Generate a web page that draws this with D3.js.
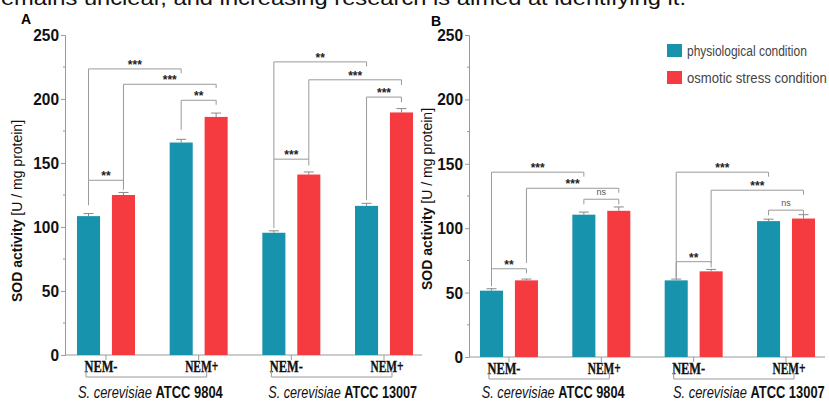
<!DOCTYPE html>
<html>
<head>
<meta charset="utf-8">
<script src="https://cdn.jsdelivr.net/npm/d3@7"></script>
<style>
    body { margin: 0; background: #fff; }
    svg { display: block; }
    .tick-lbl { font-family: "Liberation Sans", sans-serif; font-weight: bold; font-size: 17px; fill: #111; }
    .nem { font-family: "Liberation Serif", serif; font-weight: bold; font-size: 16px; fill: #111; stroke: #111; stroke-width: 0.35px; }
    .strain { font-family: "Liberation Sans", sans-serif; font-size: 17px; fill: #111; }
    .ytitle { font-family: "Liberation Sans", sans-serif; font-size: 14px; fill: #111; }
    .sig { font-family: "Liberation Sans", sans-serif; font-weight: bold; font-size: 12px; fill: #222; }
    .ns { font-family: "Liberation Sans", sans-serif; font-size: 9px; fill: #555; }
    .legend { font-family: "Liberation Sans", sans-serif; font-size: 15px; fill: #444; }
</style>
</head>
<body>
<svg id="chart" width="829" height="403"></svg>
<script>
// data
var strains = ["ATCC 9804", "ATCC 13007"];
var treatments = ["NEM-", "NEM+"];
var conditions = ["physiological condition", "osmotic stress condition"];
var yTicks = [0, 50, 100, 150, 200, 250];

// order: 9804 NEM-, 9804 NEM+, 13007 NEM-, 13007 NEM+
var physA = [108.5, 166, 95.5, 116.5];
var physErrA = [2, 2.5, 1.5, 2];
var osmA = [125, 186, 141, 189.5];
var osmErrA = [2, 3, 2, 3];

var physB = [51.5, 110.5, 59.5, 105.5];
var physErrB = [1.5, 2, 1, 1.5];
var osmB = [59.5, 113.5, 66.5, 107.5];
var osmErrB = [1, 3, 1.5, 3];

// significance brackets: [cluster, condition] -> [cluster, condition], level, leg ends, label
var bracketsA = [
    {a: [0, 0], b: [1, 0], y: 223.5, la: 136.5, lb: 220, t: "***"},
    {a: [0, 1], b: [1, 1], y: 211.5, la: 129, lb: 208.5, t: "***"},
    {a: [1, 0], b: [1, 1], y: 199, la: 176, lb: 195.5, t: "**"},
    {a: [0, 0], b: [0, 1], y: 136.5, la: 117, lb: 132.5, t: "**"},
    {a: [2, 0], b: [3, 0], y: 229, la: 153, lb: 225.5, t: "**"},
    {a: [2, 1], b: [3, 1], y: 215, la: 153, lb: 211, t: "***"},
    {a: [3, 0], b: [3, 1], y: 201.5, la: 121, lb: 197.5, t: "***"},
    {a: [2, 0], b: [2, 1], y: 153, la: 99, lb: 148, t: "***"}
];
var bracketsB = [
    {a: [0, 0], b: [1, 0], y: 143.5, la: 55, lb: 140, t: "***"},
    {a: [0, 1], b: [1, 1], y: 131, la: 73, lb: 127.5, t: "***"},
    {a: [1, 0], b: [1, 1], y: 122.5, la: 118.5, lb: 118.5, t: "ns"},
    {a: [0, 0], b: [0, 1], y: 68.5, la: 55, lb: 65, t: "**"},
    {a: [2, 0], b: [3, 0], y: 143.5, la: 61, lb: 140, t: "***"},
    {a: [2, 1], b: [3, 1], y: 129.5, la: 73, lb: 126, t: "***"},
    {a: [3, 0], b: [3, 1], y: 114, la: 110, lb: 110, t: "ns"},
    {a: [2, 0], b: [2, 1], y: 74, la: 61, lb: 69.5, t: "**"}
];

var colors = ["#1893ad", "#f63b40"];
var grey = "#9a9a9a";

var svg = d3.select("#chart");

// cut-off line of body text above the figure
svg.append("text")
    .attr("x", -7).attr("y", 5)
    .attr("textLength", 693).attr("lengthAdjust", "spacingAndGlyphs")
    .style("font-family", "Liberation Sans, sans-serif").style("font-size", "21px").style("fill", "#111")
    .text("remains unclear, and increasing research is aimed at identifying it.");

// squeeze a text horizontally to a given width (the original uses a narrow face)
function squeeze(sel, x0, y0, w, anchor) {
    var n = sel.node().getComputedTextLength();
    sel.attr("text-anchor", anchor || "middle")
        .attr("transform", "translate(" + x0 + "," + y0 + ") scale(" + (w / n) + ",1)");
}

function panel(opt) {
    var g = svg.append("g");
    var clusters = d3.range(4);

    var x = d3.scaleBand().domain(clusters).range(opt.xRange);
    var xs = d3.scaleBand().domain([0, 1])
        .range([x.bandwidth() / 2 - 29, x.bandwidth() / 2 + 29])
        .paddingInner(0.34);
    var y = d3.scaleLinear().domain([0, 250]).range(opt.yRange);

    function barX(c, s) { return x(c) + xs(s); }
    function barMid(c, s) { return x(c) + xs(s) + xs.bandwidth() / 2; }
    function mid(c) { return x(c) + x.bandwidth() / 2; }

    var rows = [];
    clusters.forEach(function (c) {
        rows.push({c: c, s: 0, v: opt.phys[c], e: opt.physErr[c]});
        rows.push({c: c, s: 1, v: opt.osm[c], e: opt.osmErr[c]});
    });

    // y axis
    var yAxis = d3.axisLeft(y).tickValues(yTicks).tickSize(4).tickPadding(2).tickFormat(d3.format("d"));
    var ay = g.append("g").attr("transform", "translate(" + opt.axisX + ",0)").call(yAxis);
    ay.attr("font-size", null).attr("font-family", null);
    ay.select(".domain").attr("stroke", grey);
    ay.selectAll(".tick line").attr("stroke", grey);
    ay.selectAll(".tick text").attr("class", "tick-lbl").attr("fill", null)
        .attr("textLength", function (d) { return String(d).length * 8.6; })
        .attr("lengthAdjust", "spacingAndGlyphs");
    // minor ticks
    g.selectAll(".minor").data(d3.range(25, 250, 50)).enter().append("line")
        .attr("x1", opt.axisX - 2).attr("x2", opt.axisX)
        .attr("y1", function (d) { return y(d); }).attr("y2", function (d) { return y(d); })
        .attr("stroke", grey);

    // x axis line and ticks
    g.append("line")
        .attr("x1", opt.axisX).attr("x2", opt.xEnd)
        .attr("y1", y(0)).attr("y2", y(0))
        .attr("stroke", grey);
    g.selectAll(".xtick").data(clusters).enter().append("line")
        .attr("x1", mid).attr("x2", mid)
        .attr("y1", y(0)).attr("y2", y(0) + 5)
        .attr("stroke", grey);

    // bars
    g.selectAll(".bar").data(rows).enter().append("rect")
        .attr("x", function (d) { return barX(d.c, d.s); })
        .attr("width", xs.bandwidth())
        .attr("y", function (d) { return y(d.v); })
        .attr("height", function (d) { return y(0) - y(d.v); })
        .attr("fill", function (d) { return colors[d.s]; });

    // error bars (upper half)
    var eb = g.selectAll(".err").data(rows).enter().append("g").attr("stroke", "#888").attr("stroke-width", 1);
    eb.append("line")
        .attr("x1", function (d) { return barMid(d.c, d.s); })
        .attr("x2", function (d) { return barMid(d.c, d.s); })
        .attr("y1", function (d) { return y(d.v); })
        .attr("y2", function (d) { return y(d.v + d.e); });
    eb.append("line")
        .attr("x1", function (d) { return barMid(d.c, d.s) - 5; })
        .attr("x2", function (d) { return barMid(d.c, d.s) + 5; })
        .attr("y1", function (d) { return y(d.v + d.e); })
        .attr("y2", function (d) { return y(d.v + d.e); });

    // significance brackets
    var br = g.selectAll(".br").data(opt.brackets).enter().append("g");
    br.append("path")
        .attr("fill", "none").attr("stroke", grey).attr("stroke-width", 1)
        .attr("d", function (d) {
            var xa = barMid(d.a[0], d.a[1]), xb = barMid(d.b[0], d.b[1]);
            return "M" + xa + "," + y(d.la) + "V" + y(d.y) + "H" + xb + "V" + y(d.lb);
        });
    br.append("text")
        .attr("class", function (d) { return d.t == "ns" ? "ns" : "sig"; })
        .attr("text-anchor", "middle")
        .attr("x", function (d) { return (barMid(d.a[0], d.a[1]) + barMid(d.b[0], d.b[1])) / 2; })
        .attr("y", function (d) { return y(d.y) - (d.t == "ns" ? 4 : 0); })
        .text(function (d) { return d.t; });

    // treatment labels and strain brackets
    g.selectAll(".nem").data(clusters).enter().append("text")
        .attr("class", "nem")
        .attr("text-anchor", "middle")
        .attr("x", function (c) { return mid(c) + (c % 2 ? 3 : -5); })
        .attr("y", y(0) + 17)
        .attr("textLength", 33).attr("lengthAdjust", "spacingAndGlyphs")
        .text(function (c) { return treatments[c % 2]; });

    strains.forEach(function (s, i) {
        var x0 = mid(i * 2) - 20, x1 = mid(i * 2 + 1) + 8, yy = y(0) + 22;
        g.append("path")
            .attr("fill", "none").attr("stroke", grey)
            .attr("d", "M" + x0 + "," + (yy - 6) + "V" + yy + "H" + x1 + "V" + (yy - 6));
        var t = g.append("text").attr("class", "strain");
        t.append("tspan").style("font-style", "italic").text("S. cerevisiae ");
        t.append("tspan").style("font-weight", "bold").text(s);
        squeeze(t, (mid(i * 2) + mid(i * 2 + 1)) / 2 + opt.strainShift[i], 398, opt.strainLen[i]);
    });

    // y title
    var yt = g.append("text")
        .attr("class", "ytitle")
        .attr("text-anchor", "middle")
        .attr("transform", "translate(" + opt.titleX + "," + opt.titleY + ") rotate(-90)");
    yt.append("tspan").style("font-weight", "bold").text("SOD activity ");
    yt.append("tspan").text("[U / mg protein]");

    // panel letter
    g.append("text")
        .attr("x", opt.letterX).attr("y", opt.letterY)
        .style("font-family", "Liberation Sans, sans-serif").style("font-weight", "bold").style("font-size", "14px")
        .text(opt.letter);
}

panel({
    letter: "A", letterX: 21, letterY: 24,
    xRange: [59.65, 430.35], yRange: [355, 35], axisX: 65, xEnd: 422,
    phys: physA, physErr: physErrA, osm: osmA, osmErr: osmErrA,
    brackets: bracketsA,
    strainShift: [-2, 5], strainLen: [145, 149],
    titleX: 22, titleY: 211
});

panel({
    letter: "B", letterX: 431, letterY: 26,
    xRange: [462.8, 832.2], yRange: [357, 35], axisX: 469, xEnd: 825,
    phys: physB, physErr: physErrB, osm: osmB, osmErr: osmErrB,
    brackets: bracketsB,
    strainShift: [-2, 9], strainLen: [143, 152],
    titleX: 432, titleY: 199
});

// legend
var leg = svg.append("g").attr("transform", "translate(667,44)");
var legendLen = [120, 140];
leg.selectAll("rect").data(conditions).enter().append("rect")
    .attr("x", 0).attr("y", function (d, i) { return i * 27; })
    .attr("width", 15).attr("height", 13)
    .attr("fill", function (d, i) { return colors[i]; });
leg.selectAll("text").data(conditions).enter().append("text")
    .attr("class", "legend")
    .text(function (d) { return d; })
    .each(function (d, i) {
        squeeze(d3.select(this), 20, i * 27 + 11.5, legendLen[i], "start");
    });
</script>
</body>
</html>
